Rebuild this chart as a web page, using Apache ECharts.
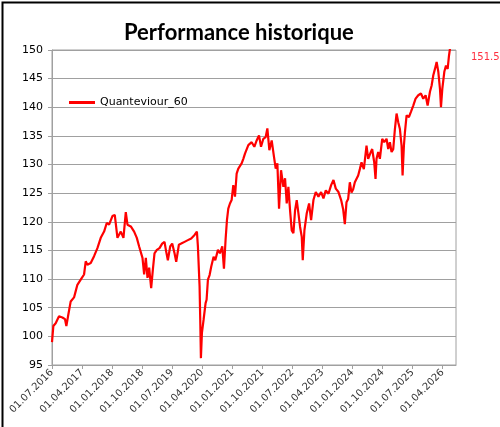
<!DOCTYPE html>
<html>
<head>
<meta charset="utf-8">
<script src="https://cdn.jsdelivr.net/npm/echarts@6/dist/echarts.min.js"></script>
<style>
  html, body { margin: 0; padding: 0; background: #fff; }
  #chart { width: 500px; height: 427px; }
</style>
</head>
<body>
<div id="chart"></div>
<script>
// x = months since 01.07.2016
var months = [
    0, 0.4, 1.1, 2.1, 3.1, 3.9, 4.3, 4.8, 5.6, 6.6, 7.1, 7.6, 8.6, 9.6, 10.1, 10.6, 11.6, 12.6, 13.6, 14.6,
    15.6, 16.4, 17.1, 18.1, 18.8, 19.6, 20.6, 21.4, 22.1, 22.6, 23.6, 24.6, 25.4, 26.1, 27.1, 27.6, 28.1, 28.6, 29.1, 29.7,
    30.2, 30.7, 31.4, 32.2, 33.0, 33.7, 34.2, 34.7, 35.4, 36.0, 36.7, 37.2, 38.0, 38.7, 39.7, 40.7, 41.7, 42.7, 43.4, 43.7,
    44.2, 44.4, 44.6, 44.9, 45.4, 46.0, 46.3, 46.7, 47.2, 47.7, 48.4, 48.9, 49.7, 50.3, 51.0, 51.5, 52.0, 52.4, 52.8, 53.3,
    53.8, 54.3, 54.8, 55.3, 55.8, 56.3, 56.8, 57.3, 57.8, 58.8, 59.8, 60.6, 61.3, 62.0, 62.6, 63.3, 64.0, 64.5, 65.1, 65.8,
    66.5, 67.0, 67.5, 68.0, 68.6, 69.3, 69.8, 70.3, 70.8, 71.3, 71.8, 72.3, 72.8, 73.3, 73.8, 74.3, 74.8, 75.1, 75.6, 76.3,
    77.0, 77.6, 78.3, 79.0, 79.8, 80.6, 81.3, 82.0, 82.8, 83.6, 84.3, 85.0, 85.8, 86.6, 87.2, 87.7, 88.2, 88.7, 89.2, 89.7,
    90.2, 90.7, 91.7, 92.2, 92.7, 93.4, 94.2, 94.7, 95.5, 95.9, 96.5, 96.9, 97.2, 97.7, 98.2, 98.9, 99.5, 100.2, 100.7, 101.2,
    101.7, 102.2, 102.7, 103.2, 103.7, 104.2, 104.7, 105.0, 105.4, 105.7, 106.2, 106.9, 107.5, 108.2, 108.9, 109.7, 110.5, 111.2, 111.9, 112.5,
    113.2, 113.7, 114.2, 114.7, 115.2, 115.7, 116.2, 116.5, 116.9, 117.5, 118.0, 118.5, 118.9, 119.5
];
var values = [
    99.0, 101.8, 102.3, 103.5, 103.3, 103.0, 101.8, 103.5, 106.1, 106.8, 107.9, 109.0, 109.9, 110.8, 113.1, 112.5, 112.8, 114.0, 115.4, 117.2,
    118.3, 119.8, 119.5, 121.0, 121.2, 117.2, 118.3, 117.2, 121.7, 119.5, 119.2, 118.3, 117.2, 115.7, 113.7, 110.8, 113.7, 110.2, 112.0, 108.4,
    111.6, 114.5, 115.1, 115.4, 116.2, 116.5, 114.8, 113.3, 115.7, 116.2, 114.5, 113.0, 116.0, 116.2, 116.5, 116.8, 117.1, 117.7, 118.3, 115.7,
    108.7, 102.9, 96.2, 100.6, 102.9, 105.8, 106.4, 109.9, 110.7, 112.2, 113.9, 113.3, 115.1, 114.5, 115.7, 111.8, 117.0, 120.3, 122.3, 123.2,
    123.8, 126.4, 124.4, 128.4, 129.3, 129.0, 130.2, 131.0, 131.9, 133.4, 133.9, 133.1, 134.2, 135.1, 133.1, 134.5, 134.8, 136.3, 132.5, 134.2,
    131.3, 129.3, 130.2, 122.3, 129.0, 126.1, 127.6, 123.2, 126.1, 122.0, 118.5, 118.0, 122.0, 123.8, 121.5, 119.1, 117.4, 113.3, 118.5, 121.5,
    123.2, 120.3, 123.8, 125.2, 124.4, 125.2, 124.1, 125.5, 124.9, 126.4, 127.3, 125.8, 125.2, 123.8, 122.2, 119.6, 123.4, 124.0, 126.9, 125.1,
    125.7, 126.9, 128.1, 129.2, 130.4, 129.2, 133.3, 131.0, 132.2, 132.7, 130.4, 127.5, 131.0, 132.2, 131.0, 134.5, 133.9, 134.5, 132.7, 133.9,
    132.2, 132.7, 136.2, 138.9, 137.4, 136.2, 133.3, 128.1, 133.3, 135.6, 138.6, 138.3, 139.2, 140.3, 141.5, 142.1, 142.4, 141.5, 142.1, 140.3,
    142.7, 143.8, 145.6, 146.7, 147.9, 146.2, 143.2, 140.0, 143.2, 146.2, 147.3, 146.7, 149.0, 151.5
];
var tickLabels = [
    '01.07.2016', '01.04.2017', '01.01.2018', '01.10.2018', '01.07.2019', '01.04.2020', '01.01.2021',
    '01.10.2021', '01.07.2022', '01.04.2023', '01.01.2024', '01.10.2024', '01.07.2025', '01.04.2026'
];
var seriesName = 'Quanteviour_60';

var myChart = echarts.init(document.getElementById('chart'));

var option = {
    animation: false,
    title: {
        text: 'Performance historique',
        left: 119,
        top: 17,
        textStyle: {
            fontFamily: 'Lato',
            fontWeight: 'bold',
            fontSize: 22,
            color: '#000'
        }
    },
    legend: {
        data: [{ name: seriesName, icon: 'rect' }],
        left: 64,
        top: 92,
        itemWidth: 26,
        itemHeight: 3,
        textStyle: {
            fontFamily: 'DejaVu Sans',
            fontSize: 11,
            color: '#000'
        }
    },
    grid: {
        left: 52,
        right: 44,
        top: 50,
        bottom: 62,
        show: true,
        borderColor: '#a0a0a0',
        borderWidth: 1
    },
    xAxis: {
        type: 'value',
        min: 0,
        max: 121,
        interval: 9,
        axisLine: { lineStyle: { color: '#a0a0a0' } },
        axisTick: { length: 4, lineStyle: { color: '#a0a0a0' } },
        splitLine: { show: false },
        axisLabel: {
            rotate: 45,
            showMaxLabel: false,
            margin: 6,
            fontFamily: 'DejaVu Sans',
            fontSize: 10,
            color: '#333',
            formatter: function (v) {
                return tickLabels[Math.round(v / 9)] || '';
            }
        }
    },
    yAxis: {
        type: 'value',
        min: 95,
        max: 150,
        interval: 5,
        axisLine: { show: true, lineStyle: { color: '#a0a0a0' } },
        axisTick: { show: true, length: 4, lineStyle: { color: '#a0a0a0' } },
        splitLine: { lineStyle: { color: '#a0a0a0', width: 1 } },
        axisLabel: {
            margin: 9,
            fontFamily: 'DejaVu Sans',
            fontSize: 11,
            color: '#000'
        }
    },
    graphic: [
        {
            type: 'rect',
            left: 0, top: 0,
            shape: { width: 499, height: 426 },
            style: { fill: 'none', stroke: '#000', lineWidth: 2 }
        },
        {
            type: 'text',
            left: 471,
            top: 52,
            style: {
                text: values[values.length - 1].toFixed(1),
                fill: '#ff3040',
                font: '10px "DejaVu Sans"'
            }
        }
    ],
    series: [{
        name: seriesName,
        type: 'line',
        symbol: 'none',
        clip: true,
        lineStyle: { color: '#ff0000', width: 2.2 },
        itemStyle: { color: '#ff0000' },
        data: months.map(function (m, i) {
            return [m, values[i]];
        })
    }]
};

myChart.setOption(option);
</script>
</body>
</html>
